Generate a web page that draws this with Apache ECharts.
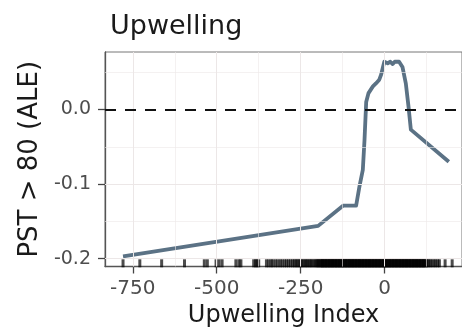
<!DOCTYPE html>
<html>
<head>
<meta charset="utf-8">
<script src="https://cdn.jsdelivr.net/npm/echarts@6/dist/echarts.min.js"></script>
<style>
  html, body { margin: 0; padding: 0; background: #fff; }
  #main { width: 462px; height: 333px; }
</style>
</head>
<body>
<div id="main"></div>
<script>
// ALE curve
const upwelling = [-779, -198, -124, -85, -75, -65, -60, -55, -48, -35, -26, -16, -11, -1, 9, 17, 24, 30, 43, 53, 63, 71, 78, 191]
const ale = [-0.197, -0.156, -0.129, -0.129, -0.103, -0.081, -0.041, 0.010, 0.022, 0.031, 0.035, 0.040, 0.046, 0.064, 0.062, 0.064, 0.061, 0.064, 0.064, 0.057, 0.035, 0.004, -0.027, -0.070]

// rug of observed upwelling values
const rug = [
  -779, -729, -664, -596, -537, -528, -502, -493, -484, -443, -434, -428, -390, -384, -381, -375,
  -352, -345, -338, -333, -325, -318, -311, -305, -298, -292, -286, -280, -274, -269,
  -264, -260, -255, -251, -246, -242, -237, -233, -229, -224, -220, -216, -211, -207, -203, -200,
  -197, -194, -191, -188, -185, -182, -179, -176, -173, -170, -167, -164, -161, -158, -155, -152,
  -149, -146, -143, -140, -137, -134, -131, -128, -125, -122, -119, -116, -113, -110, -107, -104,
  -101, -98, -95, -92, -89, -86, -83, -80, -77, -74, -71, -68, -65, -62, -59, -56, -53, -50, -47,
  -44, -41, -38, -35, -32, -29, -26, -23, -20, -17, -14, -11, -8, -5, -2, 1, 4, 7, 10, 13, 16, 19,
  22, 25, 28, 31, 34, 37, 40, 43, 46, 49, 52, 55, 58, 61, 64, 67, 70, 73, 76, 79, 82, 85, 88, 91,
  94, 97, 100, 103, 106, 109, 112, 115, 118, 121, 124, 127,
  -185, -175, -165, -155, -145, -135, -125, -115, -105, -95, -85, -75, -65, -55, -45, -35, -25,
  -15, -5, 5, 15, 25, 35, 45, 55, 65, 75, 85, 95, 105, 115,
  131, 136, 141, 147, 152, 158, 163, 180, 201
]

// axis ticks and grid
const xTicks = [-750, -500, -250, 0]
const xGrid = [-750, -625, -500, -375, -250, -125, 0, 125]
const yTicks = [-0.2, -0.1, 0]
const yGrid = [-0.2, -0.15, -0.1, -0.05, 0, 0.05]

const FONT = 'DejaVu Sans'
const RUG_Y = -0.2062

let chart = echarts.init(document.getElementById('main'))

const gridLines = []
xGrid.forEach(function (v) {
  gridLines.push({ xAxis: v, lineStyle: { color: '#ece7e7', width: xTicks.indexOf(v) >= 0 ? 1 : 0.6, type: 'solid' } })
})
yGrid.forEach(function (v) {
  if (v === 0) return
  gridLines.push({ yAxis: v, lineStyle: { color: '#ece7e7', width: yTicks.indexOf(v) >= 0 ? 1 : 0.6, type: 'solid' } })
})
gridLines.push({ yAxis: 0, lineStyle: { color: '#111', width: 2, type: [11, 9] } })

const option = {
  animation: false,
  title: {
    text: 'Upwelling',
    left: 105,
    top: 8,
    textStyle: { fontFamily: FONT, fontSize: 27, fontWeight: 'normal', color: '#1a1a1a' }
  },
  grid: {
    left: 105,
    right: -3,
    top: 52,
    bottom: 66.5,
    show: true,
    borderColor: '#777',
    borderWidth: 1,
    backgroundColor: 'transparent'
  },
  xAxis: {
    type: 'value',
    min: -832.7,
    max: 230.3,
    name: 'Upwelling Index',
    nameLocation: 'middle',
    nameGap: 36,
    nameTextStyle: { fontFamily: FONT, fontSize: 24, color: '#1a1a1a' },
    axisLine: { show: true, onZero: false, lineStyle: { color: '#555', width: 1.3 } },
    axisTick: { show: true, customValues: xTicks, length: 7, lineStyle: { color: '#444', width: 1.3 } },
    axisLabel: {
      customValues: xTicks,
      margin: 12,
      fontFamily: FONT,
      fontSize: 20,
      color: '#4d4d4d',
      formatter: function (v) { return String(v) }
    },
    splitLine: { show: false }
  },
  yAxis: {
    type: 'value',
    min: -0.2105,
    max: 0.0771,
    name: 'PST > 80 (ALE)',
    nameLocation: 'middle',
    nameRotate: 90,
    nameGap: 60,
    nameTextStyle: { fontFamily: FONT, fontSize: 26, color: '#1a1a1a' },
    axisLine: { show: true, onZero: false, lineStyle: { color: '#555', width: 1.3 } },
    axisTick: { show: true, customValues: yTicks, length: 7, lineStyle: { color: '#444', width: 1.3 } },
    axisLabel: {
      customValues: yTicks,
      margin: 14,
      fontFamily: FONT,
      fontSize: 19,
      color: '#4d4d4d',
      formatter: function (v) { return v.toFixed(1) }
    },
    splitLine: { show: false }
  },
  series: [
    {
      name: 'grid',
      type: 'line',
      data: [],
      z: 1,
      silent: true,
      markLine: {
        silent: true,
        symbol: 'none',
        label: { show: false },
        animation: false,
        data: gridLines
      }
    },
    {
      name: 'rug',
      type: 'scatter',
      z: 2,
      silent: true,
      symbol: 'rect',
      symbolSize: [3, 8],
      itemStyle: { color: '#000', opacity: 0.7 },
      data: rug.map(function (v) { return [v, RUG_Y] })
    },
    {
      name: 'ALE',
      type: 'line',
      z: 3,
      symbol: 'none',
      lineStyle: { color: '#5b7285', width: 3.8, join: 'round' },
      data: upwelling.map(function (v, i) { return [v, ale[i]] })
    }
  ]
}

chart.setOption(option)
</script>
</body>
</html>
